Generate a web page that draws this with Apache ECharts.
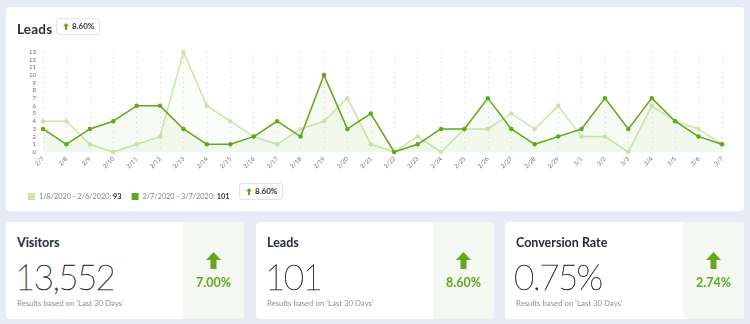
<!DOCTYPE html>
<html>
<head>
<meta charset="utf-8">
<script src="https://cdn.jsdelivr.net/npm/echarts@6/dist/echarts.min.js"></script>
<style>
  html, body { margin:0; padding:0; width:750px; height:324px; background:#e7ebf5; overflow:hidden; font-family: Lato, "Noto Sans", sans-serif; }
  .card { position:absolute; background:#fff; border-radius:4px; overflow:hidden; }
  #top { left:6px; top:7px; width:738px; height:204px; }
  #chart { position:absolute; left:0; top:0; width:738px; height:204px; }
  .title { position:absolute; left:11px; top:14px; font-size:13.5px; font-weight:700; color:#262b3d; letter-spacing:0.2px; }
  .badge { position:absolute; height:15px; border:1px solid #dde5f4; border-radius:3px; background:#fff; font-size:8px; font-weight:700; color:#333; line-height:15px; padding:0 5px 0 6px; white-space:nowrap; }
  .badge svg { vertical-align:-1px; margin-right:3px; }
  .ctitle { position:absolute; left:11px; top:13px; font-size:12.5px; font-weight:700; color:#262b3d; }
  .big { position:absolute; left:9px; top:33px; font-size:35px; font-weight:200; color:#262b3c; letter-spacing:-1.6px; -webkit-text-stroke:0.45px #262b3c; }
  .sub { position:absolute; left:11px; top:76px; font-size:7.8px; color:#8b90a0; }
  .panel { position:absolute; right:0; top:0; width:61px; height:100%; background:#f5f7f3; }
  .panel svg { position:absolute; left:23px; top:30px; }
  .pct { position:absolute; left:0; width:100%; top:53px; text-align:center; font-size:12.5px; font-weight:700; color:#63a71c; }
</style>
</head>
<body>
<div class="card" id="top">
  <div id="chart"></div>
  <div class="title">Leads</div>
  <div class="badge" style="left:50px;top:11px;"><svg width="6" height="7" viewBox="0 0 6 7"><path d="M3 0 L6 3.2 L4 3.2 L4 7 L2 7 L2 3.2 L0 3.2 Z" fill="#5fa81a"/></svg>8.60%</div>
  <div class="badge" style="left:233px;top:176px;"><svg width="6" height="7" viewBox="0 0 6 7"><path d="M3 0 L6 3.2 L4 3.2 L4 7 L2 7 L2 3.2 L0 3.2 Z" fill="#5fa81a"/></svg>8.60%</div>
</div>

<div class="card" style="left:6px;top:222px;width:238px;height:97px;">
  <div class="ctitle">Visitors</div>
  <div class="big">13,552</div>
  <div class="sub">Results based on 'Last 30 Days'</div>
  <div class="panel"><svg width="15" height="17" viewBox="0 0 15 17"><path d="M7.5 0 L15 8 L10.5 8 L10.5 17 L4.5 17 L4.5 8 L0 8 Z" fill="#63a71c"/></svg><div class="pct">7.00%</div></div>
</div>
<div class="card" style="left:256px;top:222px;width:238px;height:97px;">
  <div class="ctitle">Leads</div>
  <div class="big">101</div>
  <div class="sub">Results based on 'Last 30 Days'</div>
  <div class="panel"><svg width="15" height="17" viewBox="0 0 15 17"><path d="M7.5 0 L15 8 L10.5 8 L10.5 17 L4.5 17 L4.5 8 L0 8 Z" fill="#63a71c"/></svg><div class="pct">8.60%</div></div>
</div>
<div class="card" style="left:505px;top:222px;width:239px;height:97px;">
  <div class="ctitle">Conversion Rate</div>
  <div class="big">0.75%</div>
  <div class="sub">Results based on 'Last 30 Days'</div>
  <div class="panel"><svg width="15" height="17" viewBox="0 0 15 17"><path d="M7.5 0 L15 8 L10.5 8 L10.5 17 L4.5 17 L4.5 8 L0 8 Z" fill="#63a71c"/></svg><div class="pct">2.74%</div></div>
</div>

<script>
const categories = ['2/7','2/8','2/9','2/10','2/11','2/12','2/13','2/14','2/15','2/16','2/17','2/18','2/19','2/20','2/21','2/22','2/23','2/24','2/25','2/26','2/27','2/28','2/29','3/1','3/2','3/3','3/4','3/5','3/6','3/7'];
const previousName = '1/8/2020 - 2/6/2020';
const previousTotal = 93;
const previousValues = [4,4,1,0,1,2,13,6,4,2,1,3,4,7,1,0,2,0,3,3,5,3,6,2,2,0,6,4,3,1];
const currentName = '2/7/2020 - 3/7/2020';
const currentTotal = 101;
const currentValues = [3,1,3,4,6,6,3,1,1,2,4,2,10,3,5,0,1,3,3,7,3,1,2,3,7,3,7,4,2,1];
const yMin = 0, yMax = 13, yInterval = 1;

const totals = {};
totals[previousName] = previousTotal;
totals[currentName] = currentTotal;

const chart = echarts.init(document.getElementById('chart'));
chart.setOption({
  animation: false,
  textStyle: { fontFamily: 'Lato, "Noto Sans", sans-serif' },
  grid: { left: 37, right: 22, top: 45, bottom: 59, containLabel: false },
  legend: {
    left: 17, top: 181, itemWidth: 7, itemHeight: 7, itemGap: 10, icon: 'rect',
    data: [previousName, currentName],
    formatter: function (name) { return name + ': {b|' + totals[name] + '}'; },
    textStyle: { fontSize: 7.3, color: '#7d8292', padding: [0,0,0,-1],
      rich: { b: { fontSize: 7.3, fontWeight: 'bold', color: '#2b3040' } } }
  },
  xAxis: {
    type: 'category', data: categories, boundaryGap: false,
    axisLine: { show: false }, axisTick: { show: false },
    axisLabel: { rotate: 45, fontSize: 6, color: '#666a78', margin: 6, interval: 0 },
    splitLine: { show: true, lineStyle: { type: [1, 4], color: '#d4d8e0', width: 1 } }
  },
  yAxis: {
    type: 'value', min: yMin, max: yMax, interval: yInterval,
    axisLine: { show: false }, axisTick: { show: false },
    axisLabel: { fontSize: 6, color: '#666a78', margin: 7 },
    splitLine: { show: false }
  },
  series: [
    {
      name: previousName, type: 'line', data: previousValues,
      color: '#c9e5ab', symbol: 'circle', symbolSize: 4.5,
      lineStyle: { width: 1.5, color: '#c9e5ab' },
      itemStyle: { color: '#c9e5ab' },
      areaStyle: { color: 'rgba(200,228,170,0.12)' }, z: 2
    },
    {
      name: currentName, type: 'line', data: currentValues,
      color: '#5fa81a', symbol: 'circle', symbolSize: 4.5,
      lineStyle: { width: 1.5, color: '#5fa81a' },
      itemStyle: { color: '#5fa81a' },
      areaStyle: { color: 'rgba(150,200,100,0.12)' }, z: 3
    }
  ]
});
</script>
</body>
</html>
